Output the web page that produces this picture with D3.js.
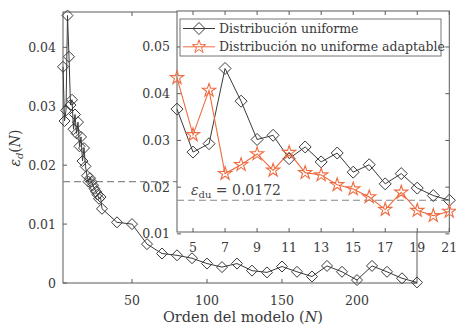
<!DOCTYPE html>
<html><head><meta charset="utf-8">
<script src="https://cdn.jsdelivr.net/npm/d3@7"></script>
<style>
body{margin:0;background:#fff;}
svg{display:block;font-family:"DejaVu Serif",serif;}
</style></head>
<body><svg id="c" width="456" height="327"></svg>
<script>
// ---- data ----
const insetN = [4,5,6,7,8,9,10,11,12,13,14,15,16,17,18,19,20,21];
const uniformInset = [0.0367,0.0275,0.0293,0.0454,0.0384,0.0302,0.0311,0.0261,0.0286,0.0254,0.0273,0.0232,0.0248,0.0207,0.0229,0.0198,0.0182,0.0172];
const adaptiveInset = [0.0434,0.0312,0.0407,0.0229,0.0248,0.0271,0.0236,0.0274,0.0231,0.0226,0.0205,0.0196,0.0179,0.0152,0.0189,0.0150,0.0139,0.0148];
const tailN = [22,23,24,25,26,27,28,29,30,40,50,60,70,80,90,100,110,120,130,140,150,160,170,180,190,200,210,220,230,240];
const tailUniform = [0.0178,0.0172,0.0166,0.0160,0.0155,0.0150,0.0143,0.0146,0.0126,0.0103,0.0100,0.0066,0.0050,0.0047,0.0042,0.0033,0.0027,0.0033,0.0021,0.0018,0.0028,0.0019,0.0011,0.0029,0.0019,0.0005,0.0029,0.0019,0.0008,0.0001];
const mainXTicks = [50,100,150,200];
const mainYTicks = [0,0.01,0.02,0.03,0.04];
const insetXTicks = [5,7,9,11,13,15,17,19,21];
const insetYTicks = [0.01,0.02,0.03,0.04,0.05];
const epsDu = 0.0172;
const legendLabels = ["Distribución uniforme","Distribución no uniforme adaptable"];

const mainN = insetN.concat(tailN);
const mainUniform = uniformInset.concat(tailUniform);

const BLK = "#3a3a3a", ORG = "#ef6c40", AX = "#5a5a5a", TXT = "#3a3a3a";
const svg = d3.select("#c");

const diamond = s => `M0,${-s}L${s},0L0,${s}L${-s},0Z`;
const star = d3.symbol().type(d3.symbolStar).size(55);

// ---- main axes ----
const mx = d3.scaleLinear().domain([4,240]).range([63,417]);
const my = d3.scaleLinear().domain([0,0.046]).range([283,12]);

const gm = svg.append("g");
gm.append("rect").attr("x",63).attr("y",12).attr("width",354).attr("height",271)
  .attr("fill","none").attr("stroke",AX).attr("stroke-width",1);
mainXTicks.forEach(t=>{
  gm.append("line").attr("x1",mx(t)).attr("x2",mx(t)).attr("y1",283).attr("y2",279).attr("stroke",AX);
  gm.append("line").attr("x1",mx(t)).attr("x2",mx(t)).attr("y1",12).attr("y2",16).attr("stroke",AX);
  gm.append("text").attr("x",mx(t)).attr("y",305).attr("text-anchor","middle").attr("font-size",12.5).attr("fill",TXT).text(t);
});
mainYTicks.forEach(t=>{
  gm.append("line").attr("x1",63).attr("x2",67).attr("y1",my(t)).attr("y2",my(t)).attr("stroke",AX);
  gm.append("line").attr("x1",417).attr("x2",413).attr("y1",my(t)).attr("y2",my(t)).attr("stroke",AX);
  gm.append("text").attr("x",56).attr("y",my(t)+4.5).attr("text-anchor","end").attr("font-size",12.5).attr("fill",TXT).text(t===0?"0":d3.format(".2f")(t));
});
gm.append("line").attr("x1",63).attr("x2",417).attr("y1",my(epsDu)).attr("y2",my(epsDu))
  .attr("stroke","#888").attr("stroke-dasharray","7,4").attr("stroke-width",1.2);
const mline = d3.line().x((d,i)=>mx(mainN[i])).y(d=>my(d));
gm.append("path").attr("d",mline(mainUniform)).attr("fill","none").attr("stroke",BLK).attr("stroke-width",1);
gm.selectAll(".md").data(mainUniform).join("path")
  .attr("transform",(d,i)=>`translate(${mx(mainN[i])},${my(d)})`)
  .attr("d",diamond(5.5)).attr("fill","none").attr("stroke",BLK).attr("stroke-width",1);
gm.append("text").attr("x",243).attr("y",322).attr("text-anchor","middle").attr("font-size",14.5).attr("fill",TXT)
  .html('Orden del modelo (<tspan font-style="italic">N</tspan>)');
gm.append("text").attr("transform","translate(20,148) rotate(-90)").attr("text-anchor","middle").attr("font-size",14).attr("fill",TXT)
  .html('<tspan font-style="italic">ε</tspan><tspan font-style="italic" font-size="10" dy="3">d</tspan><tspan dy="-3">(</tspan><tspan font-style="italic">N</tspan>)');

// ---- inset axes ----
const ix = d3.scaleLinear().domain([4,21]).range([177,449.3]);
const iy = d3.scaleLinear().domain([0.0104,0.0577]).range([232,11]);
const gi = svg.append("g");
gi.append("rect").attr("x",177).attr("y",11).attr("width",272.3).attr("height",221)
  .attr("fill","#fff").attr("stroke",AX).attr("stroke-width",1);
insetXTicks.forEach(t=>{
  gi.append("line").attr("x1",ix(t)).attr("x2",ix(t)).attr("y1",232).attr("y2",228).attr("stroke",AX);
  gi.append("line").attr("x1",ix(t)).attr("x2",ix(t)).attr("y1",11).attr("y2",15).attr("stroke",AX);
  gi.append("text").attr("x",ix(t)).attr("y",251.5).attr("text-anchor","middle").attr("font-size",12.5).attr("fill",TXT).text(t);
});
insetYTicks.forEach(t=>{
  gi.append("line").attr("x1",177).attr("x2",181).attr("y1",iy(t)).attr("y2",iy(t)).attr("stroke",AX);
  gi.append("line").attr("x1",449.3).attr("x2",445.3).attr("y1",iy(t)).attr("y2",iy(t)).attr("stroke",AX);
  gi.append("text").attr("x",170).attr("y",iy(t)+4.5).attr("text-anchor","end").attr("font-size",12.5).attr("fill",TXT).text(d3.format(".2f")(t));
});
gi.append("line").attr("x1",177).attr("x2",449.3).attr("y1",iy(epsDu)).attr("y2",iy(epsDu))
  .attr("stroke","#888").attr("stroke-dasharray","7,4").attr("stroke-width",1.2);
gi.append("text").attr("x",191).attr("y",195).attr("font-size",14).attr("fill","#444")
  .html('<tspan font-style="italic">ε</tspan><tspan font-size="10" dy="3">du</tspan><tspan dy="-3"> = 0.0172</tspan>');

const iline = d3.line().x((d,i)=>ix(insetN[i])).y(d=>iy(d));
gi.append("path").attr("d",iline(uniformInset)).attr("fill","none").attr("stroke",BLK).attr("stroke-width",1);
gi.append("path").attr("d",iline(adaptiveInset)).attr("fill","none").attr("stroke",ORG).attr("stroke-width",1.1);
gi.selectAll(".id").data(uniformInset).join("path")
  .attr("transform",(d,i)=>`translate(${ix(insetN[i])},${iy(d)})`)
  .attr("d",diamond(6)).attr("fill","none").attr("stroke",BLK).attr("stroke-width",1);
gi.selectAll(".is").data(adaptiveInset).join("path")
  .attr("transform",(d,i)=>`translate(${ix(insetN[i])},${iy(d)})`)
  .attr("d",star()).attr("fill","none").attr("stroke",ORG).attr("stroke-width",1.1);

// ---- legend ----
const gl = svg.append("g");
gl.append("rect").attr("x",180).attr("y",19).attr("width",261).attr("height",37)
  .attr("fill","#fff").attr("stroke","#777").attr("stroke-width",1);
[[BLK,"d"],[ORG,"s"]].forEach((c,i)=>{
  const y = 28.5 + i*18.3;
  gl.append("line").attr("x1",183).attr("x2",215).attr("y1",y).attr("y2",y).attr("stroke",c[0]).attr("stroke-width",1);
  gl.append("path").attr("transform",`translate(199,${y})`).attr("d",c[1]==="d"?diamond(6):star())
    .attr("fill","none").attr("stroke",c[0]).attr("stroke-width",1);
  gl.append("text").attr("x",219).attr("y",y+4.5).attr("font-size",12.5).attr("fill",TXT).text(legendLabels[i]);
});
</script></body></html>
